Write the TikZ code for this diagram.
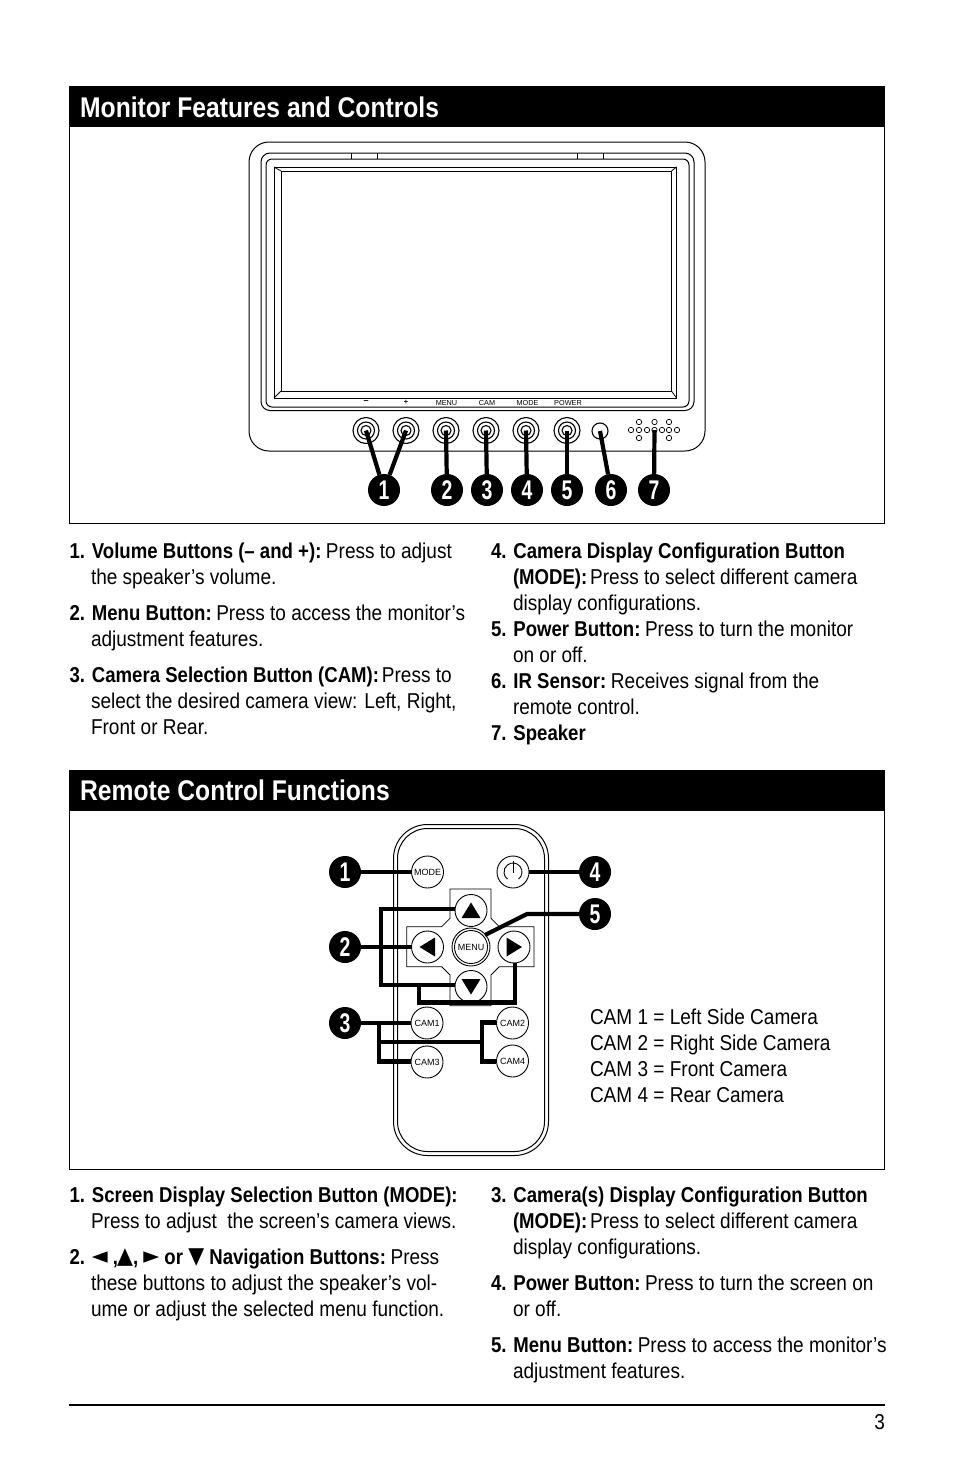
\documentclass[tikz,border=0pt]{standalone}
\usepackage{fontspec}
\setmainfont[FakeStretch=0.885,BoldFeatures={FakeStretch=0.865}]{Liberation Sans}
\newfontfamily\plainsans{Liberation Sans}
\newfontfamily\calloutsans[FakeStretch=0.72]{Liberation Sans}
\newfontfamily\symsans[FakeStretch=0.9]{DejaVu Sans}
\usetikzlibrary{calc}
\newcommand{\bd}[1]{\textbf{#1}\kern-2.5pt\relax}
\newcommand{\sy}[1]{\raisebox{.6pt}{\fontsize{23}{24}\symsans #1}}
\newcommand{\tline}[4]{\node[txt] (#1) at (#2,#3) {#4};}
\newcommand{\callout}[4]{\node[callout] (#1) at (#2,#3) {#4};}
\begin{document}
\begin{tikzpicture}[x=1pt,y=-1pt,
  txt/.style={anchor=base west,inner sep=0pt,outer sep=0pt,font=\fontsize{21.5}{26}\selectfont},
  head/.style={anchor=base west,inner sep=0pt,text=white,font=\fontsize{28.5}{34}\selectfont\bfseries},
  callout/.style={circle,fill=black,text=white,minimum size=32pt,inner sep=0pt,outer sep=0pt,font=\calloutsans\fontsize{27}{27}\selectfont\bfseries},
  lead/.style={line width=4.2pt,black},
  thin line/.style={draw=black,line width=1pt},
  fine/.style={draw=black,line width=.8pt},
  rbtn/.style={circle,draw=black,line width=.9pt,fill=white,minimum size=32pt,inner sep=0pt,font=\plainsans\fontsize{9}{10}\selectfont},
  mbtn/.style={circle,draw=black,line width=1.1pt,minimum size=26pt,inner sep=0pt},
  mlabel/.style={anchor=base,inner sep=0pt,font=\plainsans\fontsize{7.3}{8}\selectfont},
  hole/.style={circle,draw=black,line width=.7pt,minimum size=5.4pt,inner sep=0pt},
]
\useasboundingbox (0,0) rectangle (954,1475);
\fill[white] (0,0) rectangle (954,1475);

% ---------- Monitor panel
\draw[thin line] (69.5,86) rectangle (884.5,523.5);
\fill[black] (69,86) rectangle (885,127);
\node[head] (h1) at (80,117) {Monitor Features and Controls};

\draw[thin line] (249,142) [rounded corners=20pt] rectangle (705,451);
\draw[thin line] (261,153) [rounded corners=9pt] rectangle (694,410.5);
\draw[thin line] (266,159) [rounded corners=6pt] rectangle (689,407);
\draw[thin line] (274,167) rectangle (676.5,398);
\draw[thin line] (281,171) rectangle (671.5,391);
\draw[fine] (274,167)--(281,171) (676.5,167)--(671.5,171) (274,398)--(281,391) (676.5,398)--(671.5,391);
\draw[fine] (351.5,153)--(351.5,159) (377,153)--(377,159) (577,153)--(577,159) (603,153)--(603,159);

\node[mlabel,font=\plainsans\fontsize{9}{9}\selectfont] (lm) at (366,403) {\textbf{–}};
\node[mlabel] (lp) at (406,404.5) {\textbf{+}};
\node[mlabel] (lmenu) at (446.5,405) {MENU};
\node[mlabel] (lcam) at (487,405) {CAM};
\node[mlabel] (lmode) at (527.5,405) {MODE};
\node[mlabel] (lpow) at (568,405) {POWER};

\foreach \n/\x in {ba/366,bb/406,bc/446,bd/486,be/526,bf/567}{
  \node[mbtn] (\n) at (\x,430.5) {};
  \node[circle,draw=black,line width=1.1pt,minimum size=17pt,inner sep=0pt] (\n i) at (\x,430.5) {};
  \node[circle,draw=black,line width=1.1pt,minimum size=10pt,inner sep=0pt] (\n j) at (\x,430.5) {};
}
\node[circle,draw=black,line width=1.1pt,minimum size=16pt,inner sep=0pt] (ir) at (600,431) {};
\foreach \n/\x/\y in {s1/639/422,s2/654.5/422,s3/669/422,
  s4/631/430,s5/639/430,s6/647/430,s7/654.5/430,s8/662/430,s9/669/430,s10/677/430,
  s11/639/438,s12/669/438}{
  \node[hole] (\n) at (\x,\y) {};
}
\coordinate (spk) at (654.5,430);

\callout{c1}{384}{490}{1}
\callout{c2}{447}{490}{2}
\callout{c3}{487}{490}{3}
\callout{c4}{527}{490}{4}
\callout{c5}{567}{490}{5}
\callout{c6}{611}{490}{6}
\callout{c7}{654}{490}{7}
\draw[lead] (ba.center) -- (c1);
\draw[lead] (bb.center) -- (c1);
\draw[lead] (bc.center) -- (c2);
\draw[lead] (bd.center) -- (c3);
\draw[lead] (be.center) -- (c4);
\draw[lead] (bf.center) -- (c5);
\draw[lead] (ir.center) -- (c6);
\draw[lead] (spk) -- (c7);

% ---------- Monitor text
\tline{a1}{69.5}{558}{\bd{1. Volume Buttons (– and +):} Press to adjust}
\tline{a2}{91}{584}{the speaker’s volume.}
\tline{a3}{69.5}{620}{\bd{2. Menu Button:} Press to access the monitor’s}
\tline{a4}{91}{646}{adjustment features.}
\tline{a5}{69.5}{682}{\bd{3. Camera Selection Button (CAM):} Press to}
\tline{a6}{91}{708}{select the desired camera view: Left, Right,}
\tline{a7}{91}{734}{Front or Rear.}
\tline{b1}{491}{558}{\bd{4. Camera Display Configuration Button}}
\tline{b2}{513}{584}{\bd{(MODE):} Press to select different camera}
\tline{b3}{513}{610}{display configurations.}
\tline{b4}{491}{636}{\bd{5. Power Button:} Press to turn the monitor}
\tline{b5}{513}{662}{on or off.}
\tline{b6}{491}{688}{\bd{6. IR Sensor:} Receives signal from the}
\tline{b7}{513}{714}{remote control.}
\tline{b8}{491}{740}{\bd{7. Speaker}}

% ---------- Remote panel
\draw[thin line] (69.5,770) rectangle (884.5,1169.5);
\fill[black] (69,770) rectangle (885,811);
\node[head] (h2) at (80,800) {Remote Control Functions};

\draw[thin line] (393.5,824.5) [rounded corners=34pt] rectangle (548.5,1155.5);
\draw[thin line] (397.5,828.5) [rounded corners=30pt] rectangle (544.5,1151.5);

\draw[fine] (450,889)--(450,918.3)--(441.7,926.7)--(406.7,926.7)--(406.7,966.7)--(441.7,966.7)--(450,975)--(450,1005.7)--(491,1005.7)--(491,975)--(499.3,966.7)--(534,966.7)--(534,926.7)--(499.3,926.7)--(491,918.3)--(491,889)--cycle;

\node[rbtn] (mode) at (427.5,872) {MODE};
\node[rbtn] (pw) at (513,872) {};
\draw[line width=.9pt] ([shift={(-52:9pt)}]pw.center) arc[start angle=-52,end angle=232,radius=9pt];
\draw[line width=.9pt] (pw.center) ++(0,-11) -- ++(0,12);
\node[rbtn] (up) at (471,910.5) {};
\node[rbtn] (lf) at (427.5,947) {};
\node[rbtn] (rt) at (514,947) {};
\node[rbtn] (dn) at (471,986.5) {};
\node[rbtn,minimum size=38pt] (menuo) at (471,947) {};
\node[rbtn,minimum size=33pt] (menu) at (471,947) {MENU};
\fill ([shift={(0,-8)}]up.center) -- ([shift={(9.5,7.5)}]up.center) -- ([shift={(-9.5,7.5)}]up.center) -- cycle;
\fill ([shift={(0,8)}]dn.center) -- ([shift={(9.5,-7.5)}]dn.center) -- ([shift={(-9.5,-7.5)}]dn.center) -- cycle;
\fill ([shift={(-8,0)}]lf.center) -- ([shift={(7.5,-9.5)}]lf.center) -- ([shift={(7.5,9.5)}]lf.center) -- cycle;
\fill ([shift={(8,0)}]rt.center) -- ([shift={(-7.5,-9.5)}]rt.center) -- ([shift={(-7.5,9.5)}]rt.center) -- cycle;

\node[rbtn] (cam1) at (427,1023) {CAM1};
\node[rbtn] (cam2) at (512.5,1023) {CAM2};
\node[rbtn] (cam3) at (427,1062) {CAM3};
\node[rbtn] (cam4) at (512.5,1061) {CAM4};

\callout{r1}{345}{872}{1}
\callout{r2}{345}{947}{2}
\callout{r3}{345}{1023}{3}
\callout{r4}{595}{872}{4}
\callout{r5}{595}{914}{5}

\draw[lead] (r1) -- (mode);
\draw[lead] (r4) -- (pw);
\draw[lead] (r2) -- (lf);
\draw[lead,line join=miter] (up.west |- 0,909) -- (381,909) -- (381,985) -- (dn.west |- 0,985);
\draw[lead,line join=miter] (419,985) -- (419,1002.5) -- (515,1002.5) -- (515,963);
\draw[lead,line join=miter] (r5) -- (527,914) -- (485,935);
\draw[lead] (r3) -- (cam1);
\draw[lead,line join=miter] (379,1023) -- (379,1061.5) -- (cam3.west |- 0,1061.5);
\draw[lead] (379,1042) -- (482,1042);
\draw[lead,line join=miter] (cam2.west |- 0,1022.5) -- (482,1022.5) -- (482,1061.5) -- (cam4.west |- 0,1061.5);

\tline{k1}{590}{1024}{CAM 1 = Left Side Camera}
\tline{k2}{590}{1050}{CAM 2 = Right Side Camera}
\tline{k3}{590}{1076}{CAM 3 = Front Camera}
\tline{k4}{590}{1102}{CAM 4 = Rear Camera}

% ---------- Remote text
\tline{d1}{69.5}{1202}{\bd{1. Screen Display Selection Button (MODE):}}
\tline{d2}{91}{1228}{Press to adjust\ \ the screen’s camera views.}
\tline{d3}{69.5}{1264}{\bd{2. \sy{◄} ,\kern-1pt\sy{▲}, \sy{►} or \sy{▼} Navigation Buttons:} Press}
\tline{d4}{91}{1290}{these buttons to adjust the speaker’s vol-}
\tline{d5}{91}{1316}{ume or adjust the selected menu function.}
\tline{e1}{491}{1202}{\bd{3. Camera(s) Display Configuration Button}}
\tline{e2}{513}{1228}{\bd{(MODE):} Press to select different camera}
\tline{e3}{513}{1254}{display configurations.}
\tline{e4}{491}{1290}{\bd{4. Power Button:} Press to turn the screen on}
\tline{e5}{513}{1316}{or off.}
\tline{e6}{491}{1352}{\bd{5. Menu Button:} Press to access the monitor’s}
\tline{e7}{513}{1378}{adjustment features.}

\coordinate (fl) at (69,1405);
\coordinate (fr) at (885,1405);
\draw[line width=2pt] (fl) -- (fr);
\node[txt,anchor=base east] (pg) at (885,1429) {3};
\end{tikzpicture}
\end{document}
